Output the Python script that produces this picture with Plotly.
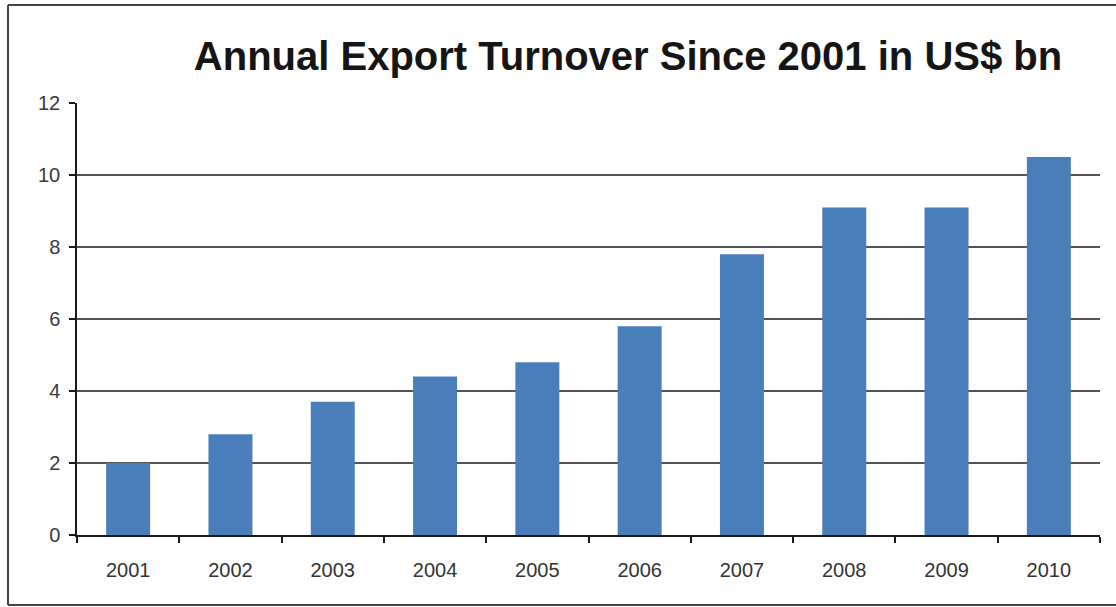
import plotly.graph_objects as go

# Annual export turnover, US$ bn
years = ["2001", "2002", "2003", "2004", "2005", "2006", "2007", "2008", "2009", "2010"]
turnover = [2.0, 2.8, 3.7, 4.4, 4.8, 5.8, 7.8, 9.1, 9.1, 10.5]
y_ticks = [0, 2, 4, 6, 8, 10, 12]
grid_levels = [2, 4, 6, 8, 10]

W, H = 1116, 607
L, R, T, B = 77, 16, 103, 72

fig = go.Figure(
    go.Bar(
        x=years,
        y=turnover,
        width=0.43,
        marker=dict(color="#4A7EBB", line=dict(width=0)),
        hoverinfo="x+y",
    )
)

# horizontal gridlines at the interior tick levels
shapes = [
    dict(type="line", xref="paper", yref="y", x0=0, x1=1, y0=v, y1=v,
         line=dict(color="#1a1a1a", width=1.5), layer="below")
    for v in grid_levels
]

# frame around the chart (top, left and bottom edges; the right edge runs off the page)
pw, ph = W - L - R, H - T - B
fx0, fx1 = (8 - L) / pw, (W + 10 - L) / pw
fy0, fy1 = -(605 - (H - B)) / ph, ((H - B) - 5) / ph
frame = dict(color="#444444", width=2)
shapes += [
    dict(type="line", xref="paper", yref="paper", x0=fx0, x1=fx1, y0=fy1, y1=fy1, line=frame),
    dict(type="line", xref="paper", yref="paper", x0=fx0, x1=fx0, y0=fy0, y1=fy1, line=frame),
    dict(type="line", xref="paper", yref="paper", x0=fx0, x1=fx1, y0=fy0, y1=fy0, line=frame),
]

fig.update_layout(
    width=W, height=H,
    margin=dict(l=L, r=R, t=T, b=B, pad=0),
    paper_bgcolor="white", plot_bgcolor="white",
    showlegend=False,
    shapes=shapes,
    title=dict(
        text="<b>Annual Export Turnover Since 2001 in US$ bn</b>",
        x=628 / W, xanchor="center", xref="container",
        y=1 - 56 / H, yanchor="middle", yref="container",
        font=dict(family="Liberation Sans, Arial, sans-serif", size=40, color="#151515"),
    ),
    font=dict(family="Liberation Sans, Arial, sans-serif", color="#333333"),
)

fig.update_xaxes(
    type="category",
    range=[-0.5, len(years) - 0.5],
    showline=True, linecolor="#1a1a1a", linewidth=1.5,
    ticks="outside", tickson="boundaries", ticklen=6, tickwidth=1.5, tickcolor="#1a1a1a",
    showgrid=False,
    tickfont=dict(size=20, color="#333333"),
    ticklabelstandoff=16,
)

fig.update_yaxes(
    range=[0, 12],
    tickvals=y_ticks,
    ticktext=[str(v) for v in y_ticks],
    showline=True, linecolor="#1a1a1a", linewidth=1.5,
    ticks="outside", ticklen=6, tickwidth=1.5, tickcolor="#1a1a1a",
    showgrid=False, zeroline=False,
    tickfont=dict(size=20, color="#3a3a3a"),
    ticklabelstandoff=5,
)

fig.write_html("out.html")
